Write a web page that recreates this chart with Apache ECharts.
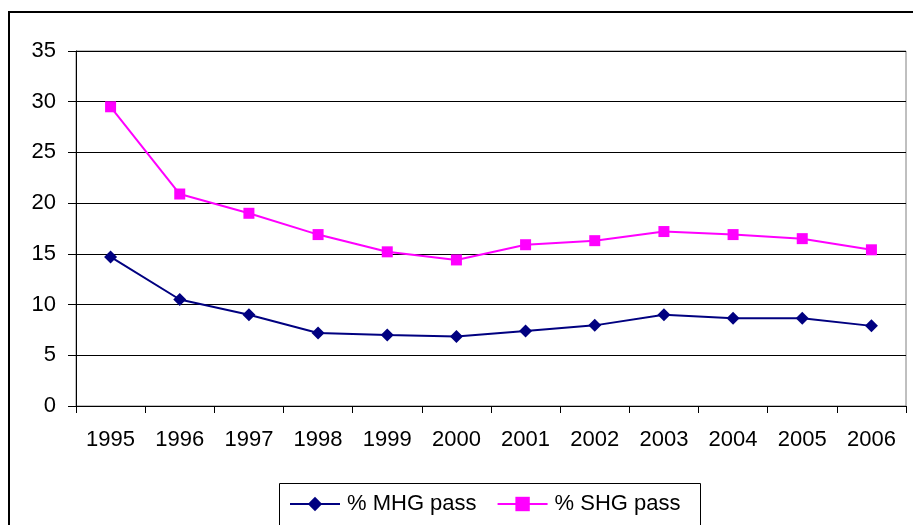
<!DOCTYPE html>
<html>
<head>
<meta charset="utf-8">
<script src="https://cdn.jsdelivr.net/npm/echarts@6/dist/echarts.min.js"></script>
<style>
  html, body { margin: 0; padding: 0; background: #fff; }
  #chart { width: 913px; height: 525px; }
</style>
</head>
<body>
<div id="chart"></div>
<script>
// Pass rates by year
var years = ['1995', '1996', '1997', '1998', '1999', '2000', '2001', '2002', '2003', '2004', '2005', '2006'];
var mhgPass = [14.7, 10.5, 9.0, 7.2, 7.0, 6.85, 7.4, 7.95, 9.0, 8.65, 8.65, 7.9];
var shgPass = [29.5, 20.9, 19.0, 16.9, 15.2, 14.4, 15.9, 16.3, 17.2, 16.9, 16.5, 15.4];
var seriesNames = ['% MHG pass', '% SHG pass'];

var font = 'Liberation Sans, Arial, sans-serif';
var chart = echarts.init(document.getElementById('chart'), null, { renderer: 'canvas' });

chart.setOption({
  backgroundColor: '#fff',
  animation: false,
  grid: { left: 76, top: 51, right: 7, bottom: 119, containLabel: false,
          show: true, borderColor: '#808080', borderWidth: 1 },
  xAxis: {
    type: 'category',
    data: years,
    boundaryGap: true,
    axisLine: { lineStyle: { color: '#000', width: 1 } },
    axisTick: { show: true, interval: 0, length: 7, lineStyle: { color: '#000' } },
    axisLabel: { color: '#000', fontFamily: font, fontSize: 22, margin: 23, interval: 0 },
    splitLine: { show: false }
  },
  yAxis: {
    type: 'value',
    min: 0, max: 35, interval: 5,
    axisLine: { show: true, lineStyle: { color: '#000', width: 1 } },
    axisTick: { show: true, length: 8, lineStyle: { color: '#000' } },
    axisLabel: { color: '#000', fontFamily: font, fontSize: 22, margin: 20 },
    splitLine: { show: true, lineStyle: { color: '#000', width: 1 } }
  },
  legend: {
    left: 289, top: 493, padding: 0,
    itemWidth: 50, itemHeight: 18, itemGap: 20,
    textStyle: { color: '#000', fontFamily: font, fontSize: 22, padding: [0, 0, 0, 2] },
    data: seriesNames
  },
  graphic: [
    { type: 'rect', shape: { x: 9, y: 12, width: 930, height: 540 },
      style: { fill: null, stroke: '#000', lineWidth: 2 }, silent: true, z: 100 },
    { type: 'rect', shape: { x: 279.5, y: 483.5, width: 421, height: 60 },
      style: { fill: null, stroke: '#000', lineWidth: 1 }, silent: true, z: 100 }
  ],
  series: [
    {
      name: seriesNames[0], type: 'line', data: mhgPass,
      symbol: 'diamond', symbolSize: 13,
      lineStyle: { color: '#000080', width: 2 },
      itemStyle: { color: '#000080' }
    },
    {
      name: seriesNames[1], type: 'line', data: shgPass,
      symbol: 'rect', symbolSize: 11,
      lineStyle: { color: '#FF00FF', width: 2 },
      itemStyle: { color: '#FF00FF' }
    }
  ]
});
</script>
</body>
</html>
